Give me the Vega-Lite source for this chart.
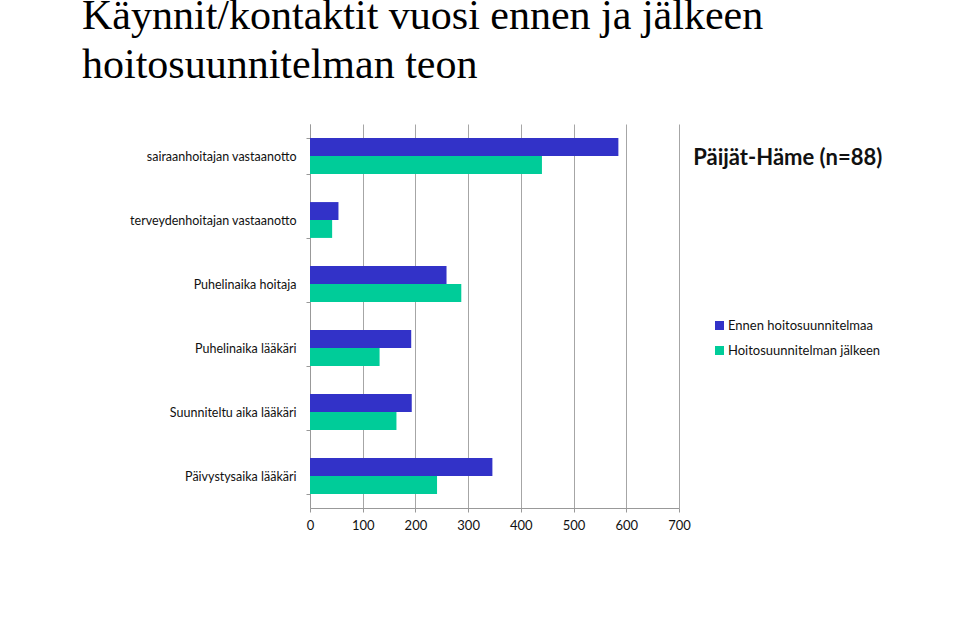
{
  "$schema": "https://vega.github.io/schema/vega-lite/v6.json",
  "autosize": "none",
  "width": 369,
  "height": 384,
  "padding": {"left": 310, "top": 124, "right": 281, "bottom": 127},
  "background": "white",
  "title": {
    "text": ["Käynnit/kontaktit vuosi ennen ja jälkeen", "hoitosuunnitelman teon"],
    "anchor": "start",
    "frame": "group",
    "font": "Liberation Serif",
    "fontSize": 42,
    "fontWeight": "normal",
    "lineHeight": 49,
    "color": "#000000",
    "baseline": "top",
    "dx": -228,
    "dy": -31,
    "offset": 0
  },
  "config": {
    "view": {"stroke": null},
    "axis": {"labelFont": "Lato", "labelColor": "#111111", "domainColor": "#999999", "tickColor": "#999999", "gridColor": "#a6a6a6"}
  },
  "layer": [
    {
      "data": {
        "values": [
          {"cat": "sairaanhoitajan vastaanotto", "series": "Ennen hoitosuunnitelmaa", "value": 585},
          {"cat": "sairaanhoitajan vastaanotto", "series": "Hoitosuunnitelman jälkeen", "value": 440},
          {"cat": "terveydenhoitajan vastaanotto", "series": "Ennen hoitosuunnitelmaa", "value": 54},
          {"cat": "terveydenhoitajan vastaanotto", "series": "Hoitosuunnitelman jälkeen", "value": 42},
          {"cat": "Puhelinaika hoitaja", "series": "Ennen hoitosuunnitelmaa", "value": 259},
          {"cat": "Puhelinaika hoitaja", "series": "Hoitosuunnitelman jälkeen", "value": 287},
          {"cat": "Puhelinaika lääkäri", "series": "Ennen hoitosuunnitelmaa", "value": 192},
          {"cat": "Puhelinaika lääkäri", "series": "Hoitosuunnitelman jälkeen", "value": 132},
          {"cat": "Suunniteltu aika lääkäri", "series": "Ennen hoitosuunnitelmaa", "value": 193},
          {"cat": "Suunniteltu aika lääkäri", "series": "Hoitosuunnitelman jälkeen", "value": 164},
          {"cat": "Päivystysaika lääkäri", "series": "Ennen hoitosuunnitelmaa", "value": 346},
          {"cat": "Päivystysaika lääkäri", "series": "Hoitosuunnitelman jälkeen", "value": 241}
        ]
      },
      "mark": {"type": "bar"},
      "encoding": {
        "y": {
          "field": "cat",
          "type": "nominal",
          "sort": null,
          "scale": {"paddingInner": 0.44, "paddingOuter": 0.22},
          "axis": {
            "title": null,
            "tickBand": "extent",
            "tickSize": 4,
            "labelFontSize": 12.5,
            "labelPadding": 10,
            "grid": false,
            "domainColor": "#999999"
          }
        },
        "yOffset": {"field": "series", "type": "nominal", "sort": ["Ennen hoitosuunnitelmaa", "Hoitosuunnitelman jälkeen"], "scale": {"paddingInner": 0, "paddingOuter": 0}},
        "x": {
          "field": "value",
          "type": "quantitative",
          "scale": {"domain": [0, 700], "nice": false},
          "axis": {
            "title": null,
            "values": [0, 100, 200, 300, 400, 500, 600, 700],
            "grid": true,
            "tickSize": 4,
            "labelFontSize": 13,
            "labelPadding": 7,
            "labelFlush": false
          }
        },
        "color": {
          "field": "series",
          "type": "nominal",
          "sort": ["Ennen hoitosuunnitelmaa", "Hoitosuunnitelman jälkeen"],
          "scale": {"range": ["#3232c8", "#00cc99"]},
          "legend": {
            "title": null,
            "orient": "none",
            "legendX": 403,
            "legendY": 195,
            "symbolType": "square",
            "symbolSize": 81,
            "symbolStrokeWidth": 0,
            "labelFont": "Lato",
            "labelFontSize": 13,
            "labelColor": "#111111",
            "rowPadding": 11,
            "labelOffset": 2
          }
        }
      }
    },
    {
      "data": {"values": [{"cat": "sairaanhoitajan vastaanotto", "x": 727, "label": "Päijät-Häme (n=88)"}]},
      "mark": {"type": "text", "align": "left", "baseline": "middle", "font": "Lato", "fontSize": 22, "fontWeight": "bold", "color": "#111111", "dy": 2},
      "encoding": {
        "y": {"field": "cat", "type": "nominal", "sort": null},
        "x": {"field": "x", "type": "quantitative"},
        "text": {"field": "label"}
      }
    }
  ]
}
